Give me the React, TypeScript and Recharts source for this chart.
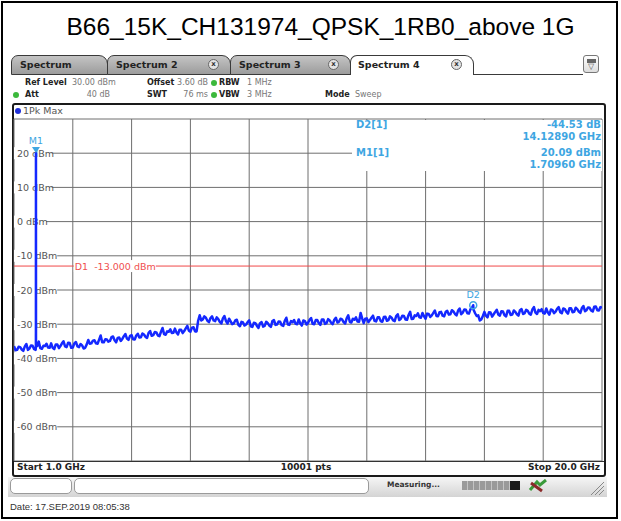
import {
  CartesianGrid,
  Line,
  LineChart,
  ReferenceDot,
  ReferenceLine,
  XAxis,
  YAxis,
} from 'recharts'

// sweep: 1.0 GHz .. 20.0 GHz, one reading every 50 MHz
const startGHz = 1.0
const stepGHz = 0.05
const traceLevels = [
  -36.4, -37.6, -37.5, -36.6, -36.7, -37.4, -37.8, -36.5, -35.8, -37.5, -37.1, -36.2, -36.3, -37.3, -37.5, -36.4, -35.1, -37.0, -37.2, -36.3,
  -36.4, -35.7, -36.8, -36.9, -35.6, -36.9, -37.3, -35.9, -35.9, -37.0, -36.4, -35.6, -35.0, -36.5, -36.7, -35.4, -35.5, -36.9, -36.8, -35.6,
  -35.2, -36.5, -36.7, -35.8, -36.2, -37.1, -36.9, -35.9, -34.6, -35.7, -35.6, -34.8, -34.7, -35.6, -35.7, -34.5, -33.3, -35.3, -35.3, -34.4,
  -34.5, -35.1, -34.9, -33.8, -33.6, -34.7, -35.3, -34.0, -33.9, -34.9, -34.3, -33.5, -32.9, -34.2, -34.6, -33.4, -33.2, -34.4, -34.5, -33.3,
  -32.8, -33.9, -33.8, -32.7, -33.0, -33.7, -34.0, -32.5, -32.0, -33.4, -33.2, -32.3, -32.4, -33.3, -33.5, -32.2, -31.1, -32.9, -33.1, -32.1,
  -32.2, -31.5, -32.6, -32.5, -31.3, -32.4, -33.0, -31.6, -31.6, -32.6, -32.0, -31.2, -30.5, -31.9, -32.2, -31.0, -30.9, -32.1, -32.1, -29.0,
  -27.4, -28.9, -28.6, -27.7, -28.1, -29.0, -29.4, -28.2, -27.7, -28.9, -29.1, -28.0, -28.5, -29.3, -29.8, -28.3, -27.6, -29.1, -29.8, -28.4,
  -29.2, -30.0, -29.8, -28.9, -28.7, -30.2, -30.6, -29.3, -29.5, -30.4, -30.1, -29.4, -28.9, -30.6, -30.8, -29.6, -29.7, -30.5, -31.1, -29.7,
  -29.4, -30.7, -30.5, -29.3, -29.7, -30.4, -30.8, -29.1, -28.8, -30.2, -30.1, -29.2, -29.3, -30.3, -30.5, -29.0, -28.1, -30.1, -30.2, -29.1,
  -29.4, -28.8, -29.9, -30.0, -28.6, -29.8, -30.4, -28.9, -29.1, -30.1, -29.6, -28.7, -28.2, -29.9, -30.0, -28.8, -28.8, -29.7, -30.2, -28.6,
  -28.6, -29.9, -29.7, -28.5, -28.9, -29.6, -30.0, -28.7, -28.1, -29.5, -29.3, -28.4, -28.6, -29.4, -29.8, -28.3, -27.4, -29.3, -29.5, -28.4,
  -28.7, -28.0, -29.2, -29.3, -26.7, -28.3, -29.7, -28.4, -28.3, -29.4, -28.8, -28.1, -27.5, -29.0, -29.2, -28.0, -28.0, -29.1, -29.3, -27.9,
  -27.8, -29.0, -28.8, -27.7, -28.1, -28.9, -29.1, -27.6, -27.1, -28.8, -28.4, -27.5, -27.6, -28.6, -28.7, -27.3, -26.4, -28.5, -28.4, -27.4,
  -27.6, -26.8, -28.0, -28.1, -26.7, -27.7, -28.4, -26.9, -27.0, -27.9, -27.4, -26.7, -26.0, -27.6, -27.7, -26.5, -26.4, -27.5, -27.7, -26.4,
  -26.1, -27.2, -27.1, -25.9, -26.3, -27.0, -27.4, -26.0, -25.4, -27.1, -26.6, -25.7, -25.8, -26.8, -26.9, -25.6, -25.2, -25.8, -26.8, -27.6,
  -27.4, -28.9, -28.6, -27.6, -26.4, -27.5, -28.0, -26.5, -26.6, -27.8, -27.1, -26.4, -25.8, -27.2, -27.5, -26.2, -26.3, -27.4, -27.7, -26.1,
  -26.1, -27.3, -27.2, -26.0, -26.4, -27.1, -27.5, -25.9, -25.6, -27.0, -26.8, -25.8, -26.1, -26.9, -27.2, -25.7, -25.0, -26.6, -27.0, -25.8,
  -26.2, -25.6, -26.7, -26.9, -25.4, -26.6, -27.2, -25.7, -25.9, -26.8, -26.3, -25.5, -25.0, -26.5, -26.8, -25.4, -25.6, -26.4, -26.9, -25.3,
  -25.3, -26.5, -26.4, -25.2, -25.6, -26.3, -26.7, -25.3, -24.7, -26.2, -25.9, -25.1, -25.2, -26.0, -26.3, -24.9, -24.8, -25.9, -26.0, -25.0,
  -25.1,
]

// carrier spike at the M1 marker
const m1Spike = [
  { ghz: 1.708, level: -36.2 },
  { ghz: 1.7096, level: 20.09 },
  { ghz: 1.711, level: -36.5 },
]
const m1 = { ghz: 1.7096, level: 20.09 }
const d2 = { ghz: 15.8385, level: -24.44 }
const limitDbm = -13

const freqTicks = [1, 2.9, 4.8, 6.7, 8.6, 10.5, 12.4, 14.3, 16.2, 18.1, 20]
const levelTicks = [30, 20, 10, 0, -10, -20, -30, -40, -50, -60, -70]

const traceData = [
  ...traceLevels.map((level, i) => ({
    ghz: Math.round((startGHz + i * stepGHz) * 1000) / 1000,
    level,
  })),
  ...m1Spike,
  d2,
].sort((a, b) => a.ghz - b.ghz)

const uiFont = '"DejaVu Sans", Verdana, sans-serif'
const markerBlue = '#3ea6e2'
const chartMargin = { top: 119, right: 19, bottom: 60, left: 14 }

function EmptyTick() {
  return <g />
}

function DbmTick(props: any) {
  const { x, y, payload } = props
  if (payload.value >= 30 || payload.value <= -70) return <g />
  const text = `${payload.value} dBm`
  return (
    <g>
      <rect x={x - 3} y={y - 6} width={text.length * 5.6 + 4} height={12} fill="#fff" />
      <text x={x} y={y} dy={3.5} fontSize={9.5} fill="#555" fontFamily={uiFont}>
        {text}
      </text>
    </g>
  )
}

function LimitLabel(props: any) {
  const { viewBox } = props
  const x = viewBox.x + viewBox.width / 10 + 1
  return (
    <g>
      <rect x={x} y={viewBox.y - 6} width={82} height={12} fill="#fff" />
      <text x={x + 1} y={viewBox.y} dy={3.5} fontSize={9.5} fill="#f05050" fontFamily={uiFont}>
        {'D1\u00a0\u00a0-13.000 dBm'}
      </text>
    </g>
  )
}

function M1Shape(props: any) {
  const { cx, cy } = props
  return (
    <g>
      <path d={`M${cx - 4},${cy - 6} L${cx + 4},${cy - 6} L${cx},${cy} Z`} fill={markerBlue} />
      <text x={cx} y={cy - 9} textAnchor="middle" fontSize={9.5} fill={markerBlue} fontFamily={uiFont}>
        M1
      </text>
    </g>
  )
}

function D2Shape(props: any) {
  const { cx, cy } = props
  return (
    <g>
      <circle cx={cx} cy={cy} r={3.5} fill="none" stroke={markerBlue} strokeWidth={1.5} />
      <text x={cx} y={cy - 7} textAnchor="middle" fontSize={9.5} fill={markerBlue} fontFamily={uiFont}>
        D2
      </text>
    </g>
  )
}

const abs = (left: number, top: number, extra: any = {}) => ({
  position: 'absolute' as const,
  left,
  top,
  ...extra,
})

function Tab({ left, width, label, close, active }: any) {
  return (
    <div
      style={abs(left, 55, {
        width,
        height: 20,
        boxSizing: 'border-box',
        border: '1.5px solid #3a3a3a',
        borderBottom: active ? 'none' : '1.5px solid #3a3a3a',
        borderRadius: '7px 9px 0 0',
        background: active ? '#fff' : 'linear-gradient(#c4c4c4, #9c9c9c)',
      })}
    >
      <span
        style={abs(active ? 7 : 8, 3, {
          fontFamily: uiFont,
          fontWeight: 'bold',
          fontSize: 9.5,
          color: '#222',
        })}
      >
        {label}
      </span>
      {close && (
        <span
          style={abs(width - 24, 3, {
            width: 9,
            height: 9,
            borderRadius: '50%',
            border: '1px solid #666',
            background: '#e4e4e4',
            fontSize: 7,
            lineHeight: '9px',
            textAlign: 'center',
            fontFamily: uiFont,
            fontWeight: 'bold',
            color: '#333',
          })}
        >
          x
        </span>
      )}
    </div>
  )
}

function HeaderText({ left, top, bold, children, right }: any) {
  return (
    <span
      style={abs(left, top, {
        fontFamily: uiFont,
        fontSize: 8,
        fontWeight: bold ? 'bold' : 'normal',
        color: bold ? '#222' : '#777',
        whiteSpace: 'nowrap',
        ...(right ? { width: right - left, textAlign: 'right' } : {}),
      })}
    >
      {children}
    </span>
  )
}

const dot = (left: number, top: number, color: string) => (
  <span
    style={abs(left, top, {
      width: 6,
      height: 6,
      borderRadius: '50%',
      background: color,
    })}
  />
)

export default function App() {
  const info = (top: number, text: string, left?: number) => (
    <span
      style={abs(left ?? 440, top, {
        fontFamily: uiFont,
        fontWeight: 'bold',
        fontSize: 10,
        color: markerBlue,
        whiteSpace: 'nowrap',
        ...(left === undefined ? { width: 161, textAlign: 'right' } : {}),
      })}
    >
      {text}
    </span>
  )

  return (
    <div
      style={abs(0, 0, {
        width: 621,
        height: 521,
        background: '#fff',
        overflow: 'hidden',
      })}
    >
      <div
        style={abs(1, 1, {
          width: 617,
          height: 518,
          boxSizing: 'border-box',
          border: '2px solid #000',
        })}
      />
      <div
        style={abs(10, 13, {
          width: 621,
          textAlign: 'center',
          fontFamily: '"Liberation Sans", Arial, sans-serif',
          fontSize: 24.5,
          color: '#000',
        })}
      >
        B66_15K_CH131974_QPSK_1RB0_above 1G
      </div>

      {/* tab bar */}
      <div style={abs(473, 74, { width: 110, height: 0, borderTop: '1.5px solid #3a3a3a' })} />
      <Tab left={11} width={97} label="Spectrum" />
      <Tab left={107} width={124} label="Spectrum 2" close />
      <Tab left={230} width={121} label="Spectrum 3" close />
      <Tab left={350} width={124} label="Spectrum 4" close active />
      <div
        style={abs(583, 55, {
          width: 16,
          height: 18,
          boxSizing: 'border-box',
          border: '1px solid #777',
          borderRadius: 3,
          background: 'linear-gradient(#fff, #ddd)',
          fontSize: 8,
          lineHeight: '8px',
          textAlign: 'center',
          color: '#555',
        })}
      >
        <div style={{ margin: '3px auto 0', width: 9, height: 4, background: '#666' }} />
        ▽
      </div>

      {/* settings rows */}
      <HeaderText left={25} top={78} bold>Ref Level</HeaderText>
      <HeaderText left={72} top={78}>30.00 dBm</HeaderText>
      <HeaderText left={147} top={78} bold>Offset</HeaderText>
      <HeaderText left={150} top={78} right={208}>3.60 dB</HeaderText>
      {dot(211, 80, '#3cb93c')}
      <HeaderText left={219} top={78} bold>RBW</HeaderText>
      <HeaderText left={247} top={78}>1 MHz</HeaderText>
      {dot(13, 92, '#3cb93c')}
      <HeaderText left={25} top={90} bold>Att</HeaderText>
      <HeaderText left={60} top={90} right={110}>40 dB</HeaderText>
      <HeaderText left={147} top={90} bold>SWT</HeaderText>
      <HeaderText left={150} top={90} right={208}>76 ms</HeaderText>
      {dot(211, 92, '#3cb93c')}
      <HeaderText left={219} top={90} bold>VBW</HeaderText>
      <HeaderText left={247} top={90}>3 MHz</HeaderText>
      <HeaderText left={325} top={90} bold>Mode</HeaderText>
      <HeaderText left={355} top={90}>Sweep</HeaderText>

      {/* diagram frame */}
      <div
        style={abs(12, 103, {
          width: 594,
          height: 374,
          boxSizing: 'border-box',
          border: '2px solid #1a1a1a',
          borderRadius: 3,
          background: '#fff',
        })}
      />

      {/* grid, level labels and limit line */}
      <div style={abs(0, 0)}>
        <LineChart width={621} height={521} data={traceData} margin={chartMargin}>
          <CartesianGrid
            stroke="#6e6e6e"
            strokeWidth={1}
            verticalValues={freqTicks}
            horizontalValues={levelTicks}
          />
          <XAxis
            dataKey="ghz"
            type="number"
            domain={[1, 20]}
            ticks={freqTicks}
            height={0}
            tick={<EmptyTick />}
            tickLine={false}
            axisLine={false}
            allowDataOverflow
          />
          <YAxis
            type="number"
            domain={[-70, 30]}
            ticks={levelTicks}
            interval={0}
            mirror
            tickSize={0}
            tickMargin={3}
            tickLine={false}
            axisLine={false}
            tick={<DbmTick />}
            allowDataOverflow
          />
          <ReferenceLine y={limitDbm} stroke="#f04848" strokeWidth={1} label={<LimitLabel />} />
        </LineChart>
      </div>

      {/* trace and markers */}
      <div style={abs(0, 0)}>
        <LineChart width={621} height={521} data={traceData} margin={chartMargin}>
          <XAxis dataKey="ghz" type="number" domain={[1, 20]} hide allowDataOverflow />
          <YAxis type="number" domain={[-70, 30]} hide allowDataOverflow />
          <Line
            dataKey="level"
            stroke="#1428ff"
            strokeWidth={2.5}
            strokeLinejoin="round"
            dot={false}
            isAnimationActive={false}
          />
          <ReferenceDot x={m1.ghz} y={m1.level} shape={<M1Shape />} />
          <ReferenceDot x={d2.ghz} y={d2.level} shape={<D2Shape />} />
        </LineChart>
      </div>

      {/* trace label */}
      <span style={abs(15, 108, { width: 6, height: 6, borderRadius: '50%', background: '#1f2fd8' })} />
      <span style={abs(23, 105, { fontFamily: uiFont, fontSize: 9.5, color: '#555' })}>1Pk Max</span>

      {/* marker table */}
      <div style={abs(352, 120, { width: 250, height: 51, background: '#fff' })} />
      {info(119, 'D2[1]', 356)}
      {info(119, '-44.53 dB')}
      {info(131, '14.12890 GHz')}
      {info(147, 'M1[1]', 356)}
      {info(147, '20.09 dBm')}
      {info(159, '1.70960 GHz')}

      {/* footer of the diagram */}
      <div style={abs(14, 461, { width: 590, height: 0, borderTop: '1.5px solid #333' })} />
      <span style={abs(17, 462, { fontFamily: uiFont, fontWeight: 'bold', fontSize: 9, color: '#222' })}>
        Start 1.0 GHz
      </span>
      <span
        style={abs(256, 462, {
          width: 100,
          textAlign: 'center',
          fontFamily: uiFont,
          fontWeight: 'bold',
          fontSize: 9,
          color: '#222',
        })}
      >
        10001 pts
      </span>
      <span
        style={abs(450, 462, {
          width: 150,
          textAlign: 'right',
          fontFamily: uiFont,
          fontWeight: 'bold',
          fontSize: 9,
          color: '#222',
        })}
      >
        Stop 20.0 GHz
      </span>

      {/* status bar */}
      <div
        style={abs(8, 477, {
          width: 599,
          height: 20,
          background: 'linear-gradient(#f6f6f6, #d4d4d4)',
        })}
      />
      <div
        style={abs(10, 478, {
          width: 62,
          height: 16,
          boxSizing: 'border-box',
          border: '1px solid #9a9a9a',
          borderRadius: 5,
          background: '#fff',
        })}
      />
      <div
        style={abs(74, 478, {
          width: 295,
          height: 16,
          boxSizing: 'border-box',
          border: '1px solid #9a9a9a',
          borderRadius: 5,
          background: '#fff',
        })}
      />
      <span style={abs(387, 480, { fontFamily: uiFont, fontWeight: 'bold', fontSize: 7.5, color: '#333' })}>
        Measuring...
      </span>
      <div
        style={abs(462, 481, {
          width: 48,
          height: 9,
          background: 'repeating-linear-gradient(90deg, #9a9a9a 0 5px, #c4c4c4 5px 6px)',
        })}
      />
      <div style={abs(510, 481, { width: 10, height: 9, background: '#1a1a1a' })} />
      <svg style={abs(528, 479)} width={20} height={14}>
        <path d="M2,11 L9,3 L12,6 L18,1" stroke="#3a9a3a" strokeWidth={3} fill="none" />
        <path d="M3,4 L14,12" stroke="#8a2a2a" strokeWidth={3} />
      </svg>
      <svg style={abs(590, 481)} width={15} height={15}>
        <path d="M14,1 L1,14 M14,5 L5,14 M14,9 L9,14" stroke="#888" strokeWidth={1} />
      </svg>

      <span
        style={abs(10, 501, {
          fontFamily: '"Liberation Sans", Arial, sans-serif',
          fontSize: 9.5,
          color: '#333',
        })}
      >
        Date: 17.SEP.2019 08:05:38
      </span>
    </div>
  )
}
